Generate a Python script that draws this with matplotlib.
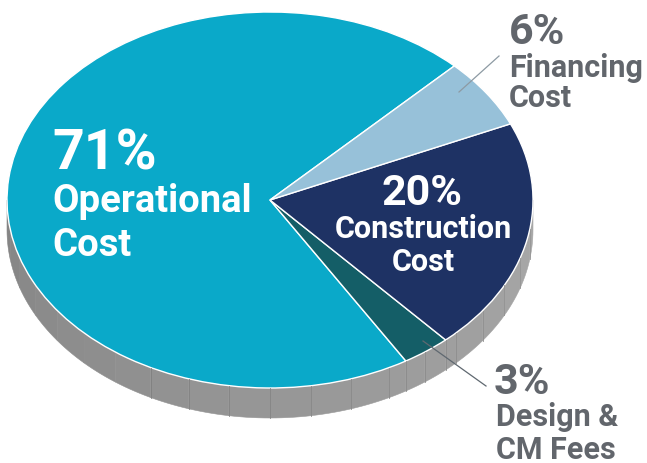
import numpy as np
import matplotlib.pyplot as plt
from matplotlib.patches import Wedge, Polygon
from matplotlib.transforms import Affine2D

# data
names = ['Operational Cost', 'Design & CM Fees', 'Construction Cost', 'Financing Cost']
shares = [71, 3, 20, 6]
pct_labels = ['71%', '3%', '20%', '6%']
line_labels = [['Operational', 'Cost'], ['Design &', 'CM Fees'],
               ['Construction', 'Cost'], ['Financing', 'Cost']]
colors = ['#0aa9c9', '#145e67', '#1e3264', '#97c1d9']

plt.rcParams['font.family'] = ['Roboto', 'DejaVu Sans']

fig = plt.figure(figsize=(6.47, 4.64), dpi=100)
ax = fig.add_axes([0, 0, 1, 1])
ax.set_xlim(0, 647)
ax.set_ylim(464, 0)
ax.axis('off')

# geometry of the tilted pie (pixels)
cx, cy, rx, ry, depth = 270, 201, 263, 188, 30
start = 45.5

angles = start + 360 * np.cumsum([0] + shares) / sum(shares)

def ell(t):
    t = np.radians(t)
    return cx + rx * np.cos(t), cy - ry * np.sin(t)

# side of the disc (visible lower half), faceted
cuts = list(np.arange(180, 361, 9.0))
for a in angles:
    a = a % 360
    if 180 < a < 360:
        cuts.append(a)
cuts = sorted(set(cuts))
for t0, t1 in zip(cuts[:-1], cuts[1:]):
    ts = np.linspace(t0, t1, 8)
    xs, ys = ell(ts)
    pts = list(zip(xs, ys)) + list(zip(xs[::-1], ys[::-1] + depth))
    frac = ((t0 + t1) / 2 - 180) / 180
    g = 0.52 + 0.14 * frac
    ax.add_patch(Polygon(pts, closed=True, facecolor=(g, g, g),
                         edgecolor=(g, g, g), lw=0.4))
    if t0 > 240:
        x0, y0 = ell(t0)
        ax.plot([x0, x0], [y0, y0 + depth], color=(g - 0.07,) * 3, lw=0.6)

# top of the disc
tr = Affine2D().scale(rx, -ry).translate(cx, cy) + ax.transData
for i, c in enumerate(colors):
    w = Wedge((0, 0), 1, angles[i], angles[i + 1], facecolor=c,
              edgecolor='white', lw=1.0, transform=tr)
    ax.add_patch(w)

# labels inside
ax.text(52, 170, pct_labels[0], color='white', fontsize=40, fontweight='bold')
ax.text(52, 212, line_labels[0][0], color='white', fontsize=27.5, fontweight='bold')
ax.text(52, 256, line_labels[0][1], color='white', fontsize=27.5, fontweight='bold')

ax.text(422, 205, pct_labels[2], color='white', fontsize=31, fontweight='bold', ha='center')
ax.text(423, 238, line_labels[2][0], color='white', fontsize=22, fontweight='bold', ha='center')
ax.text(423, 271, line_labels[2][1], color='white', fontsize=22, fontweight='bold', ha='center')

# labels outside
gray = '#62666c'
ax.text(509, 44, pct_labels[3], color=gray, fontsize=31, fontweight='bold')
ax.text(509, 77, line_labels[3][0], color=gray, fontsize=22, fontweight='bold')
ax.text(509, 107, line_labels[3][1], color=gray, fontsize=22, fontweight='bold')
ax.plot([459, 499], [93, 57], color='#8d9aa3', lw=0.9)

ax.text(494, 394, pct_labels[1], color=gray, fontsize=31, fontweight='bold')
ax.text(496, 426, line_labels[1][0], color=gray, fontsize=22, fontweight='bold')
ax.text(496, 459, line_labels[1][1], color=gray, fontsize=22, fontweight='bold')
ax.plot([423, 486], [342, 387], color='#5f6870', lw=0.9)

fig.savefig('out.png', dpi=100)
